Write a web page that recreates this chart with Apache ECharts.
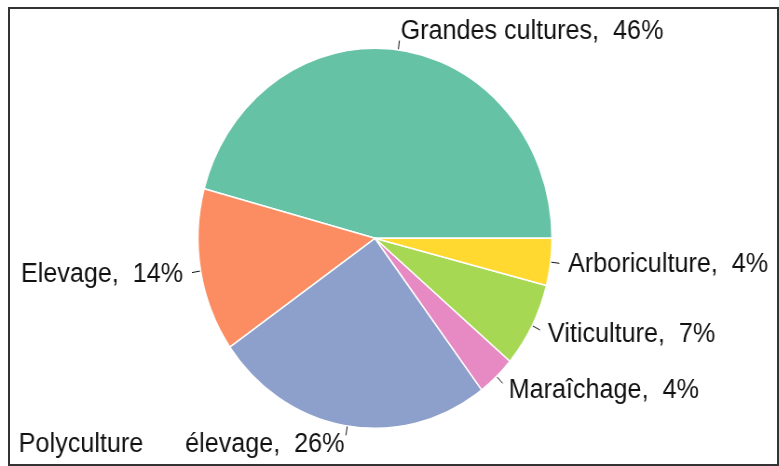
<!DOCTYPE html>
<html>
<head>
<meta charset="utf-8">
<script src="https://cdn.jsdelivr.net/npm/echarts@6/dist/echarts.min.js"></script>
<style>
  html, body { margin: 0; padding: 0; background: #fff; overflow: hidden; width: 779px; height: 466px; }
  #chart { position: absolute; left: 0; top: 0; width: 836px; height: 466px; transform: scaleX(0.9316); transform-origin: 0 0; }
  #frame { position: absolute; left: 8px; top: 7px; width: 767px; height: 455px; border: 2px solid #333; pointer-events: none; }
</style>
</head>
<body>
<div id="chart"></div>
<div id="frame"></div>
<script>
const categories = ['Grandes cultures', 'Elevage', 'Polyculture      élevage', 'Maraîchage', 'Viticulture', 'Arboriculture'];
const shares = [45.8, 13.9, 25.6, 3.5, 7.2, 4.0];
const colors = ['#66C2A5', '#FC8D62', '#8DA0CB', '#E78AC3', '#A6D854', '#FFD92F'];

const R = 190;
const center = [402.5, 238.3];
const data = categories.map((c, i) => ({ name: c, value: shares[i], itemStyle: { color: colors[i] } }));
const dataLabels = categories.map((c, i) => ({ name: c, value: shares[i] }));

const chart = echarts.init(document.getElementById('chart'), null, { renderer: 'canvas' });
chart.setOption({
  animation: false,
  series: [
    {
      type: 'pie',
      center: center,
      radius: [0, R],
      startAngle: 0,
      clockwise: false,
      avoidLabelOverlap: false,
      silent: true,
      data: data,
      itemStyle: { borderColor: '#ffffff', borderWidth: 1.5 },
      label: { show: true, position: 'outside', color: 'rgba(0,0,0,0)', fontSize: 1, distanceToLabelLine: 0, formatter: '.' },
      labelLine: { show: true, length: 9.5, length2: 0, smooth: false, lineStyle: { color: '#111', width: 1 } },
      labelLayout: { hideOverlap: false },
      emphasis: { disabled: true }
    },
    {
      type: 'pie',
      center: center,
      radius: [0, R],
      startAngle: 0,
      clockwise: false,
      avoidLabelOverlap: false,
      silent: true,
      data: dataLabels,
      itemStyle: { color: 'rgba(0,0,0,0)', borderWidth: 0 },
      label: {
        show: true, position: 'outside', color: '#111', fontSize: 27,
        fontFamily: 'Liberation Sans, Arial, sans-serif', distanceToLabelLine: 0,
        formatter: p => p.name + ',  ' + Math.round(p.value) + '%'
      },
      labelLine: { show: true, length: 19, length2: 0, lineStyle: { color: 'rgba(0,0,0,0)', width: 0 } },
      labelLayout: { hideOverlap: false },
      emphasis: { disabled: true }
    }
  ]
});
</script>
</body>
</html>
